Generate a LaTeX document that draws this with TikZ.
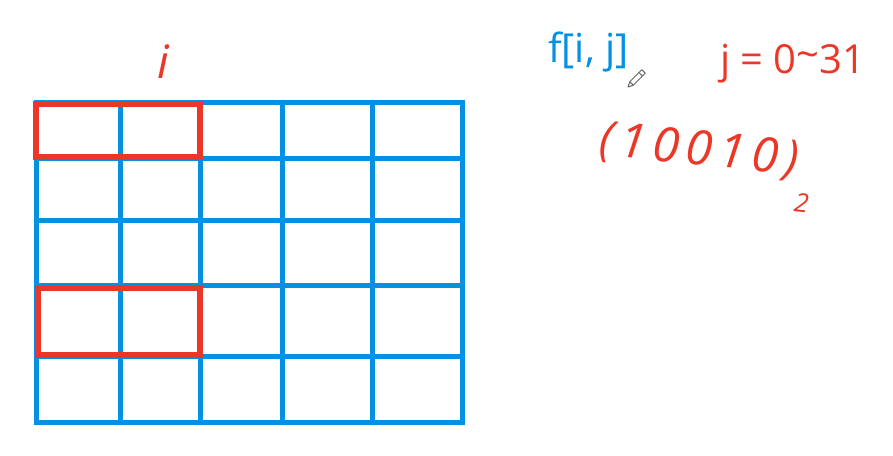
\documentclass[tikz,border=0pt]{standalone}
\usepackage{fontspec}
\setmainfont{Open Sans}
\definecolor{gridblue}{RGB}{5,145,225}
\definecolor{penred}{RGB}{235,55,40}

\begin{document}
\begin{tikzpicture}[x=1pt, y=-1pt,
		gridline/.style={line width=5pt, line cap=rect, gridblue},
		pick/.style={line width=5.5pt, penred},
		hand/.style={penred, inner sep=0pt, font=\fontsize{38}{44}\selectfont\itshape},
		label/.style={inner sep=0pt, anchor=base west, font=\fontsize{40}{46}\selectfont}]
		\useasboundingbox (0,0) rectangle (893,455);
		% table
		\foreach \x in {36,120,200,282,372,462}
			\draw[gridline] (\x,102) -- (\x,422);
		\foreach \y in {102,158,220,285,356,422}
			\draw[gridline] (36,\y) -- (462,\y);
		\draw[pick] (36,104) rectangle (200,157);
		\draw[pick] (38,288) rectangle (200,355);
		\node[hand, font=\fontsize{46}{50}\selectfont\itshape] (col) at (163,62) {i};
		
		\node[label, gridblue] (state) at (548,62) {f[i, j]};
		\node[label, penred] (range) at (720,73) {j = 0\raisebox{0.12em}{\char`\~}31};
		\node[hand, rotate=-6, anchor=west, font=\fontsize{48}{52}\selectfont\itshape] (bits) at (598,155)
			{\addfontfeature{LetterSpace=14}(10010)\raisebox{-0.75em}{\fontsize{26}{28}\selectfont 2}};
		
		% pencil cursor
		\draw[gray!80!black, line width=1pt, line join=round]
			(628,87) -- (633.3,85.2) -- (645.3,73.2) -- (641.8,69.7) -- (629.8,81.7) -- cycle;
		\draw[gray!80!black, line width=1pt] (633.3,85.2) -- (629.8,81.7);
		\draw[gray!80!black, line width=1pt] (642.5,76.1) -- (639,72.5);
		\end{tikzpicture}
\end{document}
